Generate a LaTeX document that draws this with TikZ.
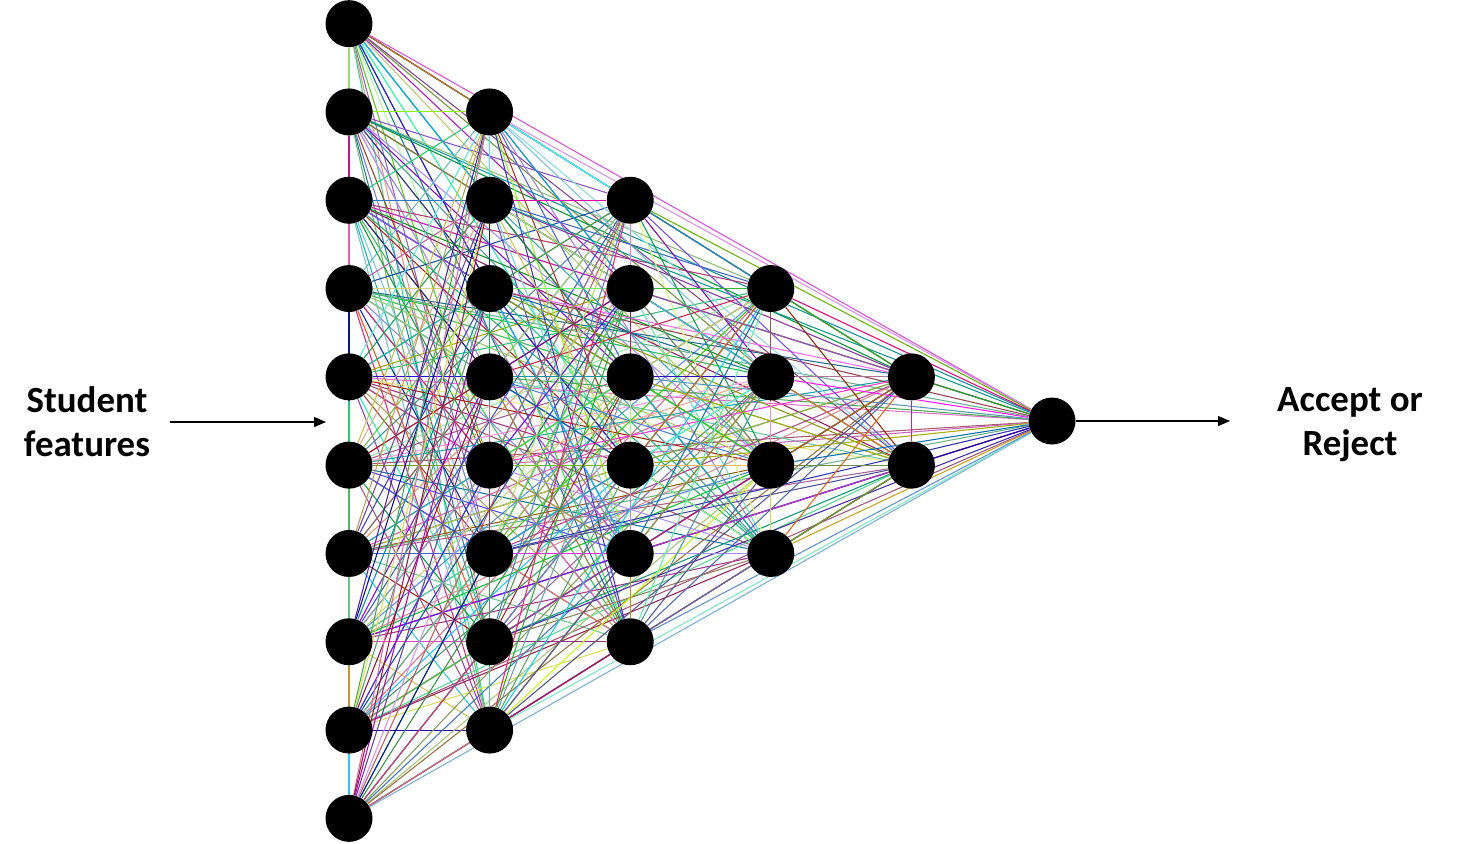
\documentclass[tikz,border=0pt]{standalone}
\usepackage{fontspec}
\setmainfont{Carlito}
\usetikzlibrary{arrows.meta,backgrounds}

\tikzset{
  neuron/.style={circle, fill=black, inner sep=0pt, minimum size=0.94cm},
  link/.style={line width=0.6pt},
  sidetext/.style={align=center, inner sep=0pt, font=\bfseries\fontsize{21}{25}\selectfont},
  flow/.style={line width=0.7pt, -{Triangle[length=0.24cm, width=0.2cm]}}
}

\begin{document}
\begin{tikzpicture}[x=0.02cm, y=-0.02cm]
  \useasboundingbox (0,0) rectangle (1469,843);

  % Layers of neurons
  \foreach \k/\n in {0/10,1/8,2/6,3/4,4/2,5/1}
    \foreach \j in {1,...,\n}
      \node[neuron] (n\k-\j) at ({349+140.6*\k}, {421+(\j-(\n+1)/2)*88.3}) {};

  % Every neuron linked to every other one
  \pgfmathsetseed{2024}
  \begin{scope}[on background layer]
    \foreach \ka/\na in {0/10,1/8,2/6,3/4,4/2,5/1}
      \foreach \ja in {1,...,\na}
        \foreach \kb/\nb in {0/10,1/8,2/6,3/4,4/2,5/1}
          \foreach \jb in {1,...,\nb} {
            \pgfmathtruncatemacro\ia{20*\ka+\ja}
            \pgfmathtruncatemacro\ib{20*\kb+\jb}
            \ifnum\ib>\ia
              \pgfmathsetmacro\hu{rnd}
              \pgfmathsetmacro\sa{0.35+0.65*rnd}
              \pgfmathsetmacro\br{0.55+0.45*rnd}
              \definecolor{linkcol}{hsb}{\hu,\sa,\br}
              \draw[link, linkcol] (n\ka-\ja) -- (n\kb-\jb);
            \fi
          }
  \end{scope}

  % Input and output
  \node[sidetext] (inputs) at (87,422) {Student\\features};
  \node[sidetext] (decision) at (1350,425) {Accept or\\Reject};
  \coordinate (feed) at (326,422);
  \coordinate (verdict) at (1230,421);
  \draw[flow, shorten <=0.4cm] (inputs.east |- feed) -- (feed);
  \draw[flow] (n5-1) -- (verdict);
\end{tikzpicture}
\end{document}
